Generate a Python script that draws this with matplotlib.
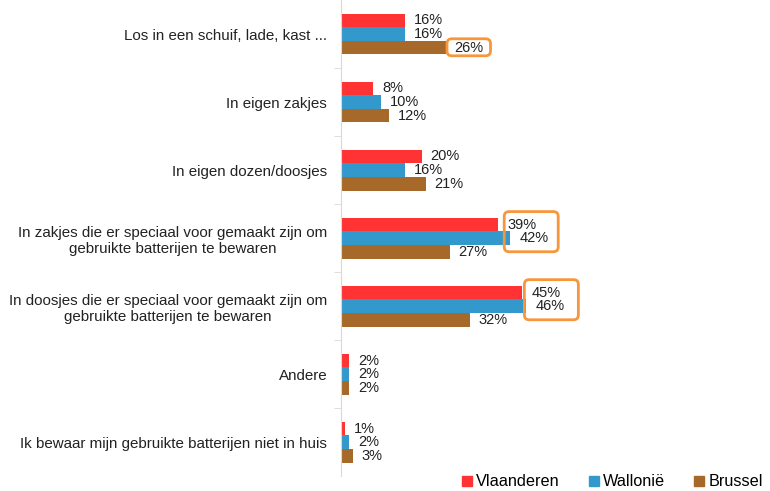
import numpy as np
import matplotlib
matplotlib.use('Agg')
import matplotlib.pyplot as plt
from matplotlib.patches import FancyBboxPatch
from matplotlib.lines import Line2D

# Data
categories = ['Los in een schuif, lade, kast ...',
              'In eigen zakjes',
              'In eigen dozen/doosjes',
              'In zakjes die er speciaal voor gemaakt zijn om\ngebruikte batterijen te bewaren',
              'In doosjes die er speciaal voor gemaakt zijn om\ngebruikte batterijen te bewaren',
              'Andere',
              'Ik bewaar mijn gebruikte batterijen niet in huis']
series = ['Vlaanderen', 'Wallonië', 'Brussel']
vlaanderen = [16, 8, 20, 39, 45, 2, 1]
wallonie = [16, 10, 16, 42, 46, 2, 2]
brussel = [26, 12, 21, 27, 32, 2, 3]
colors = ['#FF3333', '#3399CC', '#A6692A']
# highlighted labels: (category index, series indices)
highlights = [(0, [2]), (3, [0, 1]), (4, [0, 1])]

plt.rcParams['font.family'] = ['Liberation Sans', 'DejaVu Sans']

fig = plt.figure(figsize=(7.7, 4.91), dpi=100)
ax = fig.add_axes([341 / 770, 0.03, 1 - 341 / 770, 0.97])

values = [vlaanderen, wallonie, brussel]
h = 0.2
offsets = [-h, 0, h]
y = np.arange(len(categories))
for vals, off, col, name in zip(values, offsets, colors, series):
    ax.barh(y + off, vals, height=h, color=col, label=name)
    for yi, v in zip(y, vals):
        ax.text(v + 2.2, yi + off, f'{v}%', va='center', ha='left',
                fontsize=10.5, color='#222222')

# orange boxes around highlighted labels
for ci, sis in highlights:
    vals_hl = [values[s][ci] for s in sis]
    ys = [ci + offsets[s] for s in sis]
    if len(sis) == 1:
        x0, w = vals_hl[0] + 0.3, 10.8
        y0, y1 = ys[0] - h * 0.5 - 0.03, ys[0] + h * 0.5 + 0.02
    else:
        x0, w = np.mean(vals_hl), 13.4
        y0, y1 = min(ys) - h * 0.5 - 0.09, max(ys) + h * 0.5 + 0.1
    box = FancyBboxPatch((x0, y0), w, y1 - y0,
                         boxstyle='round,pad=0,rounding_size=1.2',
                         fill=False, edgecolor='#F7963A', linewidth=2,
                         mutation_aspect=0.06, clip_on=False)
    ax.add_patch(box)

ax.set_ylim(len(categories) - 0.5, -0.5)
ax.set_xlim(0, (770 - 341) / 4.03)
ax.set_yticks(y)
ax.set_yticklabels(categories, fontsize=10.9, color='#222222', multialignment='center')
ax.tick_params(axis='y', length=0, pad=10)
ax.set_yticks(np.arange(len(categories) - 1) + 0.5, minor=True)
ax.tick_params(axis='y', which='minor', length=5, color='#D9D9D9')
ax.set_xticks([])
for s in ['top', 'right', 'bottom']:
    ax.spines[s].set_visible(False)
ax.spines['left'].set_color('#D9D9D9')

handles = [Line2D([], [], marker='s', linestyle='', markersize=7, color=c) for c in colors]
fig.legend(handles, series, loc='center right', bbox_to_anchor=(1.0, 9 / 491), ncol=3,
           frameon=False, fontsize=11.7, handletextpad=0.05, columnspacing=1.6,
           handlelength=1.0, borderaxespad=0.05)

fig.savefig('out.png', dpi=100)
